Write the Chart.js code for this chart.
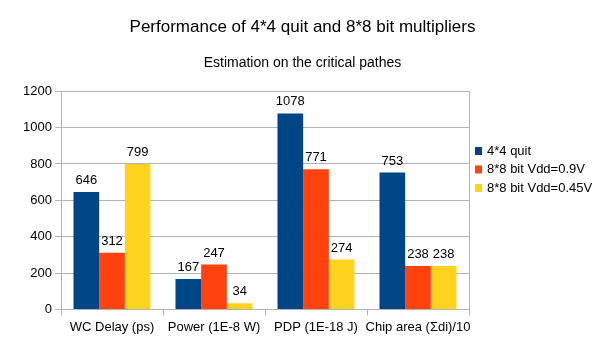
<!DOCTYPE html>
<html>
<head>
<meta charset="utf-8">
<script src="https://cdn.jsdelivr.net/npm/chart.js@4/dist/chart.umd.min.js"></script>
<style>
  html, body { margin: 0; padding: 0; background: #fff; }
  #wrap { width: 605px; height: 340px; }
</style>
</head>
<body>
<div id="wrap"><canvas id="chart"></canvas></div>
<script>
const categories = ['WC Delay (ps)', 'Power (1E-8 W)', 'PDP (1E-18 J)', 'Chip area (Σdi)/10']
const seriesNames = ['4*4 quit', '8*8 bit Vdd=0.9V', '8*8 bit Vdd=0.45V']
const quit44 = [646, 167, 1078, 753]
const bit88_09 = [312, 247, 771, 238]
const bit88_045 = [799, 34, 274, 238]
const yTicks = [0, 200, 400, 600, 800, 1000, 1200]

const colors = ['#004586', '#ff420e', '#ffd320']
const font = 'Liberation Sans'
const gridColor = '#b3b3b3'

// values above bars and the side legend
const extras = {
  id: 'extras',
  afterDatasetsDraw(chart) {
    const ctx = chart.ctx
    const area = chart.chartArea
    ctx.save()
    ctx.font = '13px "' + font + '"'
    ctx.fillStyle = '#000'
    ctx.textAlign = 'center'
    ctx.textBaseline = 'bottom'
    chart.data.datasets.forEach((ds, i) => {
      chart.getDatasetMeta(i).data.forEach((bar, j) => {
        ctx.fillText(ds.data[j], bar.x, bar.y - 5)
      })
    })

    // legend
    ctx.textAlign = 'left'
    ctx.textBaseline = 'middle'
    const lx = area.right + 6
    chart.data.datasets.forEach((ds, i) => {
      const cy = 151 + i * 18.5
      ctx.fillStyle = ds.backgroundColor
      ctx.fillRect(lx, cy - 4, 7, 8)
      ctx.fillStyle = '#000'
      ctx.fillText(ds.label, lx + 12, cy)
    })
    ctx.restore()
  }
}

const series = [quit44, bit88_09, bit88_045]
new Chart(document.getElementById('chart').getContext('2d'), {
  type: 'bar',
  data: {
    labels: categories,
    datasets: series.map((d, i) => ({
      label: seriesNames[i],
      data: d,
      backgroundColor: colors[i],
      borderWidth: 0,
      barPercentage: 1,
      categoryPercentage: 0.755
    }))
  },
  options: {
    responsive: true,
    maintainAspectRatio: false,
    animation: false,
    layout: { padding: { left: 8, right: 8, top: 0, bottom: 1 } },
    plugins: {
      title: {
        display: true,
        text: 'Performance of 4*4 quit and 8*8 bit multipliers',
        color: '#000',
        font: { family: font, size: 17, weight: 'normal' },
        padding: { top: 17, bottom: 17 }
      },
      subtitle: {
        display: true,
        text: 'Estimation on the critical pathes',
        color: '#000',
        font: { family: font, size: 14, weight: 'normal' },
        padding: { top: 0, bottom: 20 }
      },
      legend: { display: false },
      tooltip: { enabled: false }
    },
    scales: {
      x: {
        grid: { offset: true, drawOnChartArea: false, tickLength: 6, color: gridColor },
        border: { color: gridColor },
        ticks: { color: '#000', font: { family: font, size: 13 }, padding: 4, maxRotation: 0, autoSkip: false }
      },
      y: {
        min: 0,
        max: 1200,
        afterBuildTicks: axis => { axis.ticks = yTicks.map(v => ({ value: v })) },
        afterFit: axis => { axis.width = 53 },
        grid: { color: gridColor, tickLength: 6 },
        border: { color: gridColor },
        ticks: { color: '#000', font: { family: font, size: 13 }, padding: 3, callback: v => String(v) }
      },
      // empty axis: right frame line and room for the legend
      frame: {
        position: 'right',
        min: 0,
        max: 1200,
        grid: { drawOnChartArea: false, drawTicks: false },
        border: { display: true, color: gridColor },
        ticks: { display: false },
        afterFit: axis => { axis.width = 128 }
      }
    }
  },
  plugins: [extras]
})
</script>
</body>
</html>
